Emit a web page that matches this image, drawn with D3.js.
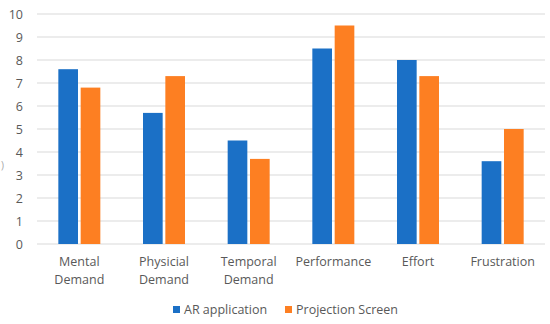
<!DOCTYPE html>
<html>
<head>
<meta charset="utf-8">
<script src="https://cdn.jsdelivr.net/npm/d3@7"></script>
<style>
  body { margin: 0; background: #fff; }
  text { font-family: "Open Sans", sans-serif; fill: #595959; }
</style>
</head>
<body>
<svg class="chart" width="550" height="324"></svg>
<script>
const categories = [["Mental", "Demand"], ["Physicial", "Demand"], ["Temporal", "Demand"], ["Performance"], ["Effort"], ["Frustration"]];
const seriesNames = ["AR application", "Projection Screen"];
const arValues = [7.6, 5.7, 4.5, 8.5, 8.0, 3.6];
const projValues = [6.8, 7.3, 3.7, 9.5, 7.3, 5.0];
const yTicks = [0, 1, 2, 3, 4, 5, 6, 7, 8, 9, 10];
const colors = ["#1b70c6", "#fd7f22"];

const svg = d3.select(".chart");
const margin = { top: 14, right: 5, bottom: 80, left: 37 };
const width = 550 - margin.left - margin.right;
const height = 324 - margin.top - margin.bottom;

const keys = categories.map((c) => c.join(" "));
const x = d3.scaleBand().domain(keys).range([0, width]).paddingInner(0).paddingOuter(0);
const x1 = d3.scaleBand().domain(seriesNames).range([0, 42]).paddingInner(0.12);
const y = d3.scaleLinear().domain([0, 10]).range([height, 0]);

const g = svg.append("g").attr("transform", `translate(${margin.left},${margin.top})`);

// gridlines
g.append("g")
  .selectAll("line")
  .data(yTicks)
  .enter()
  .append("line")
  .attr("x1", 0)
  .attr("x2", width)
  .attr("y1", (d) => y(d))
  .attr("y2", (d) => y(d))
  .attr("stroke", "#d9d9d9")
  .attr("stroke-width", 1);

// y labels
const yAxis = d3.axisLeft(y).tickValues(yTicks).tickSize(0).tickPadding(14);
g.append("g")
  .call(yAxis)
  .call((s) => s.select(".domain").remove())
  .selectAll("text")
  .style("font-size", "12.5px")
  .style("fill", "#595959");

// cut-off axis title remnant at the left edge
svg.append("text").attr("x", 1).attr("y", 169).style("font-size", "10px").style("fill", "#a6a6a6").text(")");

// bars
const rows = keys.map((k, i) => ({ key: k, values: [arValues[i], projValues[i]] }));
const groups = g
  .selectAll(".cat")
  .data(rows)
  .enter()
  .append("g")
  .attr("class", "cat")
  .attr("transform", (d) => `translate(${x(d.key) + (x.bandwidth() - 42) / 2},0)`);

groups
  .selectAll("rect")
  .data((d) => d.values.map((v, j) => ({ name: seriesNames[j], v, j })))
  .enter()
  .append("rect")
  .attr("x", (d) => x1(d.name))
  .attr("width", x1.bandwidth())
  .attr("y", (d) => y(d.v))
  .attr("height", (d) => y(0) - y(d.v))
  .attr("fill", (d) => colors[d.j]);

// category labels
const labels = g
  .selectAll(".cat-label")
  .data(categories)
  .enter()
  .append("text")
  .attr("class", "cat-label")
  .attr("text-anchor", "middle")
  .attr("x", (d, i) => x(keys[i]) + x.bandwidth() / 2)
  .attr("y", height + 22)
  .style("font-size", "12.5px");
labels
  .selectAll("tspan")
  .data((d) => d)
  .enter()
  .append("tspan")
  .attr("x", function () { return d3.select(this.parentNode).attr("x"); })
  .attr("dy", (d, i) => (i === 0 ? 0 : 18))
  .text((d) => d);

// legend
const legendX = [173, 285];
const legend = svg
  .selectAll(".legend")
  .data(seriesNames)
  .enter()
  .append("g")
  .attr("class", "legend")
  .attr("transform", (d, i) => `translate(${legendX[i]},306)`);
legend.append("rect").attr("width", 7).attr("height", 7).attr("fill", (d, i) => colors[i]);
legend
  .append("text")
  .attr("x", 11)
  .attr("y", 7.5)
  .style("font-size", "12.5px")
  .text((d) => d);
</script>
</body>
</html>
